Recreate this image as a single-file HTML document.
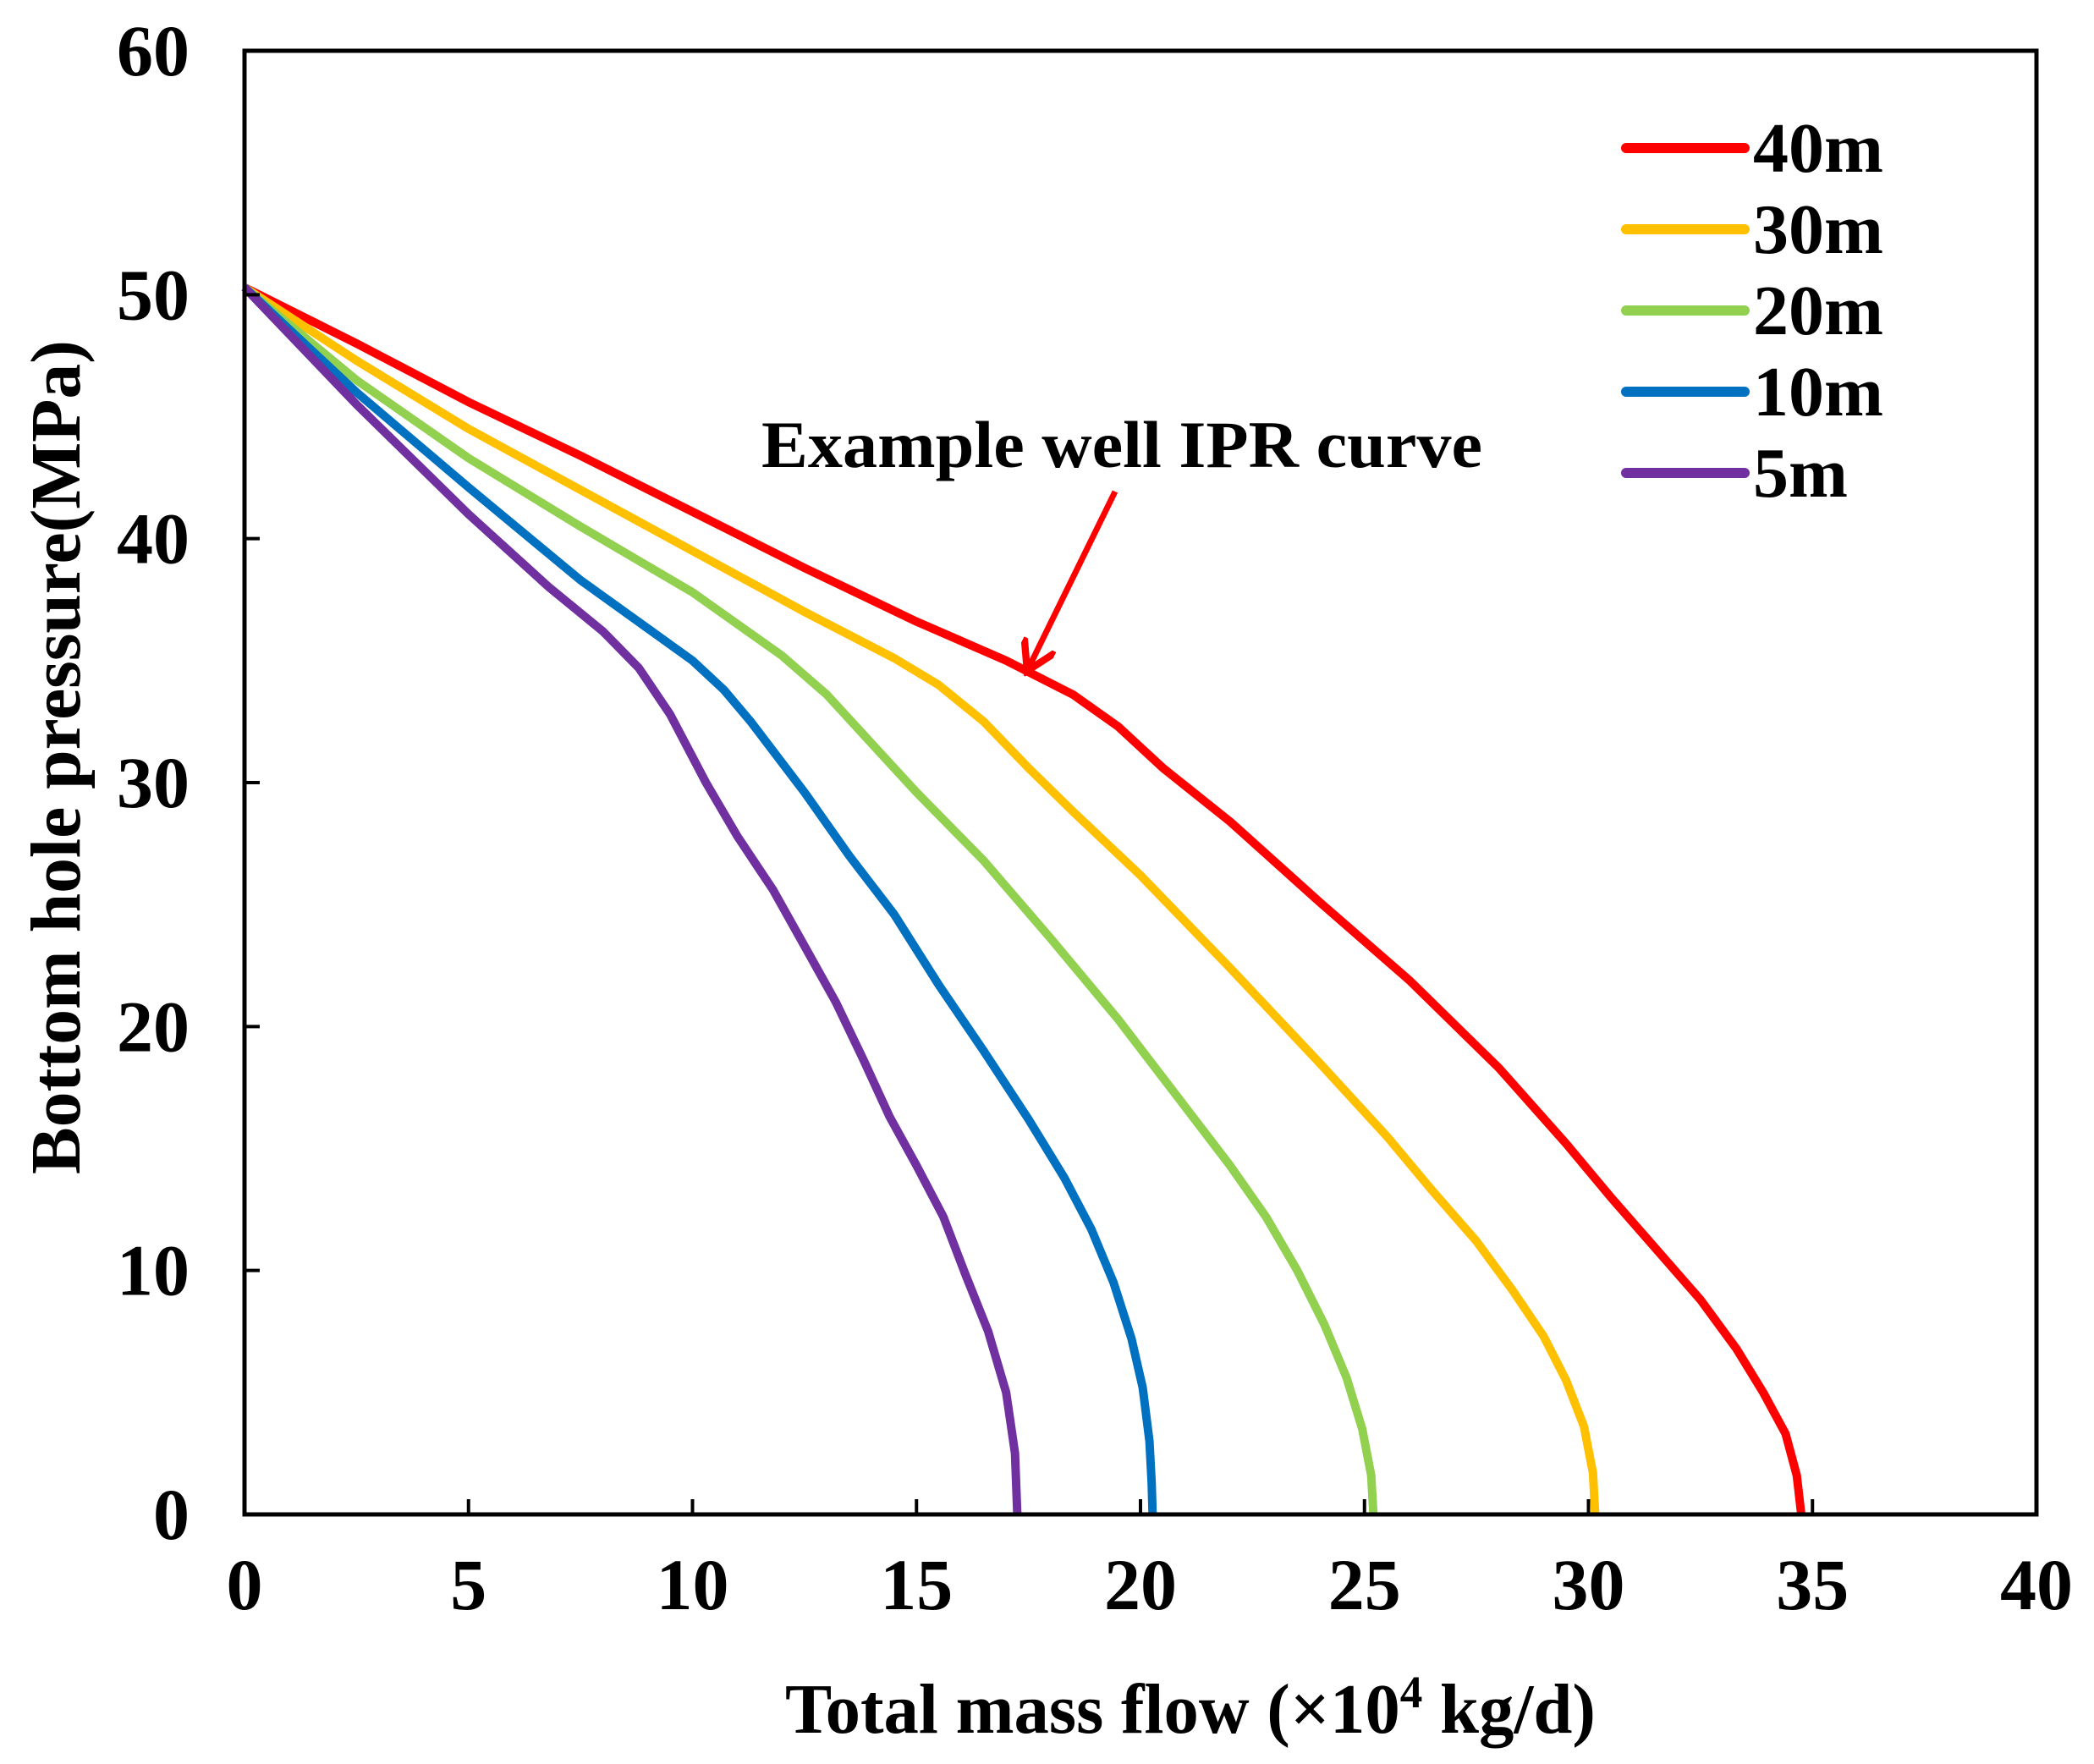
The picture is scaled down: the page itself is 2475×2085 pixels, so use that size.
<!DOCTYPE html>
<html><head><meta charset="utf-8"><style>
html,body{margin:0;padding:0;background:#fff;}
svg{display:block;font-family:"Liberation Serif",serif;font-weight:bold;}
</style></head><body>
<svg id="chart" width="2475" height="2085" viewBox="0 0 2475 2085" xmlns="http://www.w3.org/2000/svg">
<defs><marker id="ah" markerWidth="6" markerHeight="6" refX="5" refY="3" orient="auto" markerUnits="strokeWidth"><path d="M0,0 L5,3 L0,6" fill="none" stroke="#ff0000" stroke-width="1.2"/></marker></defs>
<g id="plot"></g>
</svg>
<script>
const xTicks=[0,5,10,15,20,25,30,35,40];
const yTicks=[0,10,20,30,40,50,60];
const seriesNames=["40m","30m","20m","10m","5m"];
const seriesColors=["#ff0000","#ffc000","#92d050","#0070c0","#7030a0"];
const s40=[[0,50.3],[2.5,48],[5,45.6],[7.5,43.4],[10,41.1],[12.5,38.8],[15,36.6],[17,35],[18.5,33.6],[19.5,32.3],[20.5,30.6],[22,28.4],[24,25.1],[26,21.9],[28,18.3],[29.5,15.2],[30.5,13],[31.5,10.9],[32.5,8.8],[33.3,6.8],[33.9,5],[34.4,3.3],[34.65,1.6],[34.75,0]];
const s30=[[0,50.3],[2.5,47.3],[5,44.5],[7.5,42],[10,39.5],[12.5,37],[14.5,35.1],[15.5,34],[16.5,32.5],[17.5,30.6],[18.5,28.8],[20,26.2],[22,22.4],[24,18.5],[25.5,15.5],[26.5,13.3],[27.5,11.2],[28.3,9.2],[29,7.3],[29.5,5.5],[29.9,3.6],[30.1,1.7],[30.15,0]];
const s20=[[0,50.3],[2.5,46.5],[5,43.3],[7.5,40.5],[10,37.8],[12,35.2],[13,33.6],[14,31.6],[15,29.6],[16.5,26.8],[18,23.6],[19.5,20.3],[21,16.7],[22,14.3],[22.8,12.2],[23.5,10],[24.1,7.8],[24.6,5.6],[24.95,3.5],[25.15,1.6],[25.2,0]];
const s10=[[0,50.3],[2.5,46],[5,42.1],[7.5,38.3],[10,35],[10.7,33.8],[11.3,32.5],[12.5,29.6],[13.5,27],[14.5,24.6],[15.5,21.7],[16.5,19],[17.5,16.2],[18.3,13.8],[18.9,11.7],[19.4,9.5],[19.8,7.2],[20.05,5.2],[20.2,3],[20.25,1.3],[20.27,0]];
const s5=[[0,50.3],[2.5,45.5],[5,41],[6.8,38],[8,36.2],[8.8,34.7],[9.5,32.8],[10.3,30],[11,27.8],[11.8,25.6],[12.5,23.3],[13.2,21],[13.8,18.7],[14.4,16.3],[15,14.3],[15.6,12.2],[16.1,9.8],[16.6,7.5],[17,5],[17.2,2.5],[17.25,0]];
const seriesData=[s40,s30,s20,s10,s5];

const L=289,R=2407,T=60,B=1790;
const X=v=>L+(v-0)/(40-0)*(R-L);
const Y=v=>B-(v-0)/(60-0)*(B-T);
const NS="http://www.w3.org/2000/svg";
const g=document.getElementById('plot');
function mk(tag,attrs,parent){const e=document.createElementNS(NS,tag);for(const k in attrs)e.setAttribute(k,attrs[k]);(parent||g).appendChild(e);return e;}

seriesData.forEach((d,i)=>{
  const p=mk('polyline',{points:d.map(q=>X(q[0]).toFixed(1)+','+Y(q[1]).toFixed(1)).join(' '),fill:'none',stroke:seriesColors[i],'stroke-width':10,'stroke-linejoin':'round'});
  
  
});

const fr=mk('rect',{x:L,y:T,width:R-L,height:B-T,fill:'none',stroke:'#000','stroke-width':5});



xTicks.forEach(v=>{
  const t=mk('line',{x1:X(v),x2:X(v),y1:B,y2:B-18,stroke:'#000','stroke-width':4});
  
  
  const tx=mk('text',{x:X(v),y:B+112,'font-size':86,'text-anchor':'middle'});
  tx.textContent=v;
  
  
});
yTicks.forEach(v=>{
  const t=mk('line',{x1:L,x2:L+18,y1:Y(v),y2:Y(v),stroke:'#000','stroke-width':4});
  
  
  const tx=mk('text',{x:224,y:Y(v)+29,'font-size':86,'text-anchor':'end'});
  tx.textContent=v;
  
  
});

seriesNames.forEach((n,i)=>{
  const y=175+i*96;
  const ln=mk('line',{x1:1922,x2:2062,y1:y,y2:y,stroke:seriesColors[i],'stroke-width':12,'stroke-linecap':'round'});
  
  
  const tx=mk('text',{x:2072,y:y+28,'font-size':84});
  tx.textContent=n;
  
  
});

const an=mk('text',{x:900,y:552,'font-size':78,textLength:852,lengthAdjust:'spacingAndGlyphs'});
an.textContent='Example well IPR curve';


const ar=mk('line',{x1:1318,y1:581,x2:1214,y2:793,stroke:'#ff0000','stroke-width':7,'marker-end':'url(#ah)'});



const xt=mk('text',{x:1407,y:2048,'font-size':84,'text-anchor':'middle',textLength:958,lengthAdjust:'spacingAndGlyphs'});
xt.innerHTML='Total mass flow (×10<tspan dy="-30" font-size="54">4</tspan><tspan dy="30"> kg/d)</tspan>';


const yt=mk('text',{x:0,y:0,'font-size':84,'text-anchor':'middle',transform:'translate(94,895) rotate(-90)',textLength:986,lengthAdjust:'spacingAndGlyphs'});
yt.textContent='Bottom hole pressure(MPa)';


</script>
</body></html>
